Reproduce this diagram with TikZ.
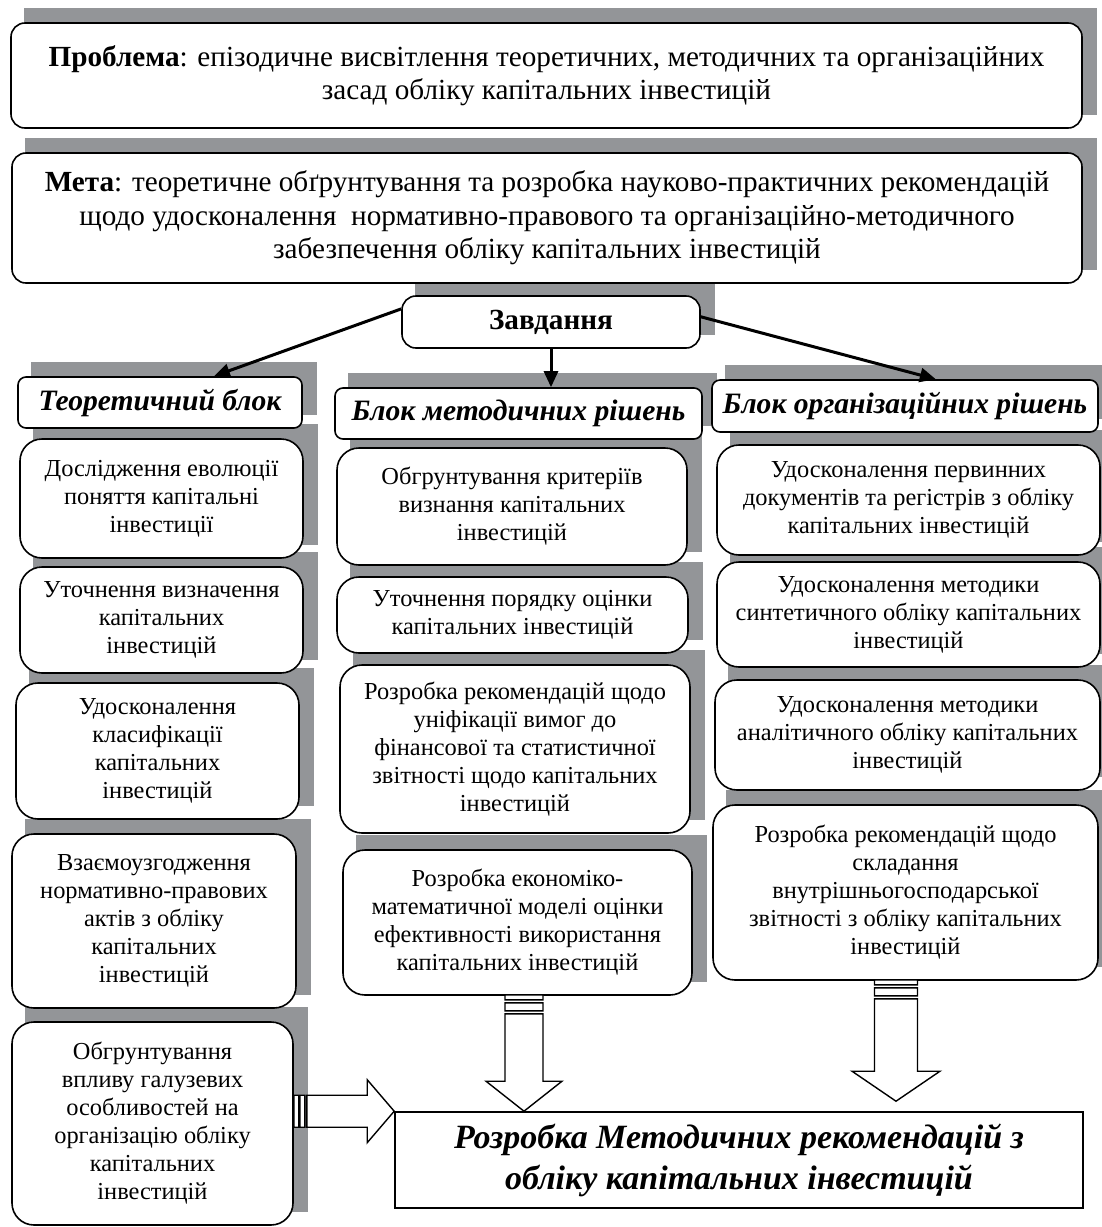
\documentclass[tikz,border=0pt]{standalone}
\usepackage{fontspec}
\setmainfont{Liberation Serif}
\usetikzlibrary{calc,positioning,arrows.meta}

\definecolor{shadowgray}{RGB}{147,149,152}
\pgfdeclarelayer{shadowlayer}
\pgfsetlayers{shadowlayer,main}

% grey block behind a box, shifted up and right
\newcommand{\boxshadow}[1]{%
  \begin{pgfonlayer}{shadowlayer}
    \fill[shadowgray] ([shift={(14,-14)}]#1.south west) rectangle ([shift={(14,-14)}]#1.north east);
  \end{pgfonlayer}}

% striped block arrow, downwards
\newcommand{\stripedown}[4]{%
  \draw[blockarrow] let \p1=#1, \p2=#2 in
    (\x1-#3,\y1+0.5pt) rectangle (\x1+#3,\y1-2pt)
    (\x1-#3,\y1-3.5pt) rectangle (\x1+#3,\y1-7.5pt)
    (\x1-#3,\y1-9pt) -- (\x1-#3,\y2+15pt) -- (\x1-#4,\y2+15pt) -- (\x1,\y2)
    -- (\x1+#4,\y2+15pt) -- (\x1+#3,\y2+15pt) -- (\x1+#3,\y1-9pt) -- cycle;}

% striped block arrow, to the right
\newcommand{\striperight}[4]{%
  \draw[blockarrow] let \p1=#1, \p2=#2 in
    (\x1,\y2-#3) rectangle (\x1+2.5pt,\y2+#3)
    (\x1+3pt,\y2-#3) rectangle (\x1+5.5pt,\y2+#3)
    (\x1+6.5pt,\y2-#3) -- (\x2-13.5pt,\y2-#3) -- (\x2-13.5pt,\y2-#4) -- (\x2,\y2)
    -- (\x2-13.5pt,\y2+#4) -- (\x2-13.5pt,\y2+#3) -- (\x1+6.5pt,\y2+#3) -- cycle;}

\begin{document}
\begin{tikzpicture}[
    x=0.5pt, y=-0.5pt,
    line width=0.8pt,
    box/.style={draw=black, rounded corners=11pt, fill=white, align=center, inner sep=2pt, font=\fontsize{12.2}{14}\selectfont},
    topbox/.style={box, rounded corners=7pt, font=\fontsize{14.6}{16.8}\selectfont},
    headbox/.style={box, rounded corners=4pt, font=\fontsize{14.8}{16}\selectfont\bfseries\itshape},
    resultbox/.style={draw=black, fill=white, align=center, inner sep=2pt, font=\fontsize{17}{20.5}\selectfont\bfseries\itshape},
    taskarrow/.style={-{Triangle[length=8pt,width=7pt]}, line width=1.5pt},
    blockarrow/.style={draw=black, fill=white, line width=0.7pt}
]
\useasboundingbox (0,0) rectangle (1102,1227);

% top
\node[topbox, minimum width=535.5pt, minimum height=52.5pt] (problem) at (546.5,75.5) {\textbf{Проблема}: епізодичне висвітлення теоретичних, методичних та організаційних\\засад обліку капітальних інвестицій};
\node[topbox, minimum width=535pt, minimum height=65pt] (goal) at (547,218) {\textbf{Мета}: теоретичне обґрунтування та розробка науково-практичних рекомендацій\\щодо удосконалення \ нормативно-правового та організаційно-методичного\\забезпечення обліку капітальних інвестицій};
\node[topbox, font=\fontsize{14.6}{16}\selectfont\bfseries, minimum width=149pt, minimum height=26pt] (task) at (551,322) {Завдання};

% block headers
\node[headbox, minimum width=142pt, minimum height=25.5pt] (theory) at (160,402.5) {Теоретичний блок};
\node[headbox, minimum width=183.5pt, minimum height=25.5pt] (method) at (518.5,413.5) {Блок методичних рішень};
\node[headbox, minimum width=193pt, minimum height=26pt] (org) at (905,406) {Блок організаційних рішень};

% theory column
\node[box, minimum width=141.5pt, minimum height=59.5pt] (evol) at (161.5,498.5) {Дослідження еволюції\\поняття капітальні\\інвестиції};
\node[box, minimum width=141.5pt, minimum height=53pt] (defin) at (161.5,620) {Уточнення визначення\\капітальних\\інвестицій};
\node[box, minimum width=141.5pt, minimum height=68pt] (classif) at (157.5,751) {Удосконалення\\класифікації\\капітальних\\інвестицій};
\node[box, minimum width=142pt, minimum height=87pt] (acts) at (154,921) {Взаємоузгодження\\нормативно-правових\\актів з обліку\\капітальних\\інвестицій};
\node[box, minimum width=140.5pt, minimum height=101.5pt] (branch) at (152.5,1123.5) {Обгрунтування\\впливу галузевих\\особливостей на\\організацію обліку\\капітальних\\інвестицій};

% method column
\node[box, minimum width=175pt, minimum height=58.5pt] (criteria) at (512,506.5) {Обгрунтування критеріїв\\визнання капітальних\\інвестицій};
\node[box, minimum width=175.5pt, minimum height=38pt] (valuation) at (512.5,615) {Уточнення порядку оцінки\\капітальних інвестицій};
\node[box, minimum width=175pt, minimum height=84pt] (unify) at (515,749) {Розробка рекомендацій щодо\\уніфікації вимог до\\фінансової та статистичної\\звітності щодо капітальних\\інвестицій};
\node[box, minimum width=174.5pt, minimum height=72.5pt] (model) at (517.5,922.5) {Розробка економіко-\\математичної моделі оцінки\\ефективності використання\\капітальних інвестицій};

% organisation column
\node[box, minimum width=191.5pt, minimum height=55pt] (docs) at (908.5,500) {Удосконалення первинних\\документів та регістрів з обліку\\капітальних інвестицій};
\node[box, minimum width=191.5pt, minimum height=52.5pt] (synth) at (908.5,614.5) {Удосконалення методики\\синтетичного обліку капітальних\\інвестицій};
\node[box, minimum width=192.5pt, minimum height=55pt] (analyt) at (907.5,735) {Удосконалення методики\\аналітичного обліку капітальних\\інвестицій};
\node[box, minimum width=192.5pt, minimum height=87.5pt] (report) at (905.5,892.5) {Розробка рекомендацій щодо\\складання\\внутрішньогосподарської\\звітності з обліку капітальних\\інвестицій};

% result
\node[resultbox, minimum width=344pt, minimum height=48pt] (result) at (739,1160) {Розробка Методичних рекомендацій з\\обліку капітальних інвестицій};

\foreach \n in {problem,goal,task,theory,method,org,evol,defin,classif,acts,branch,criteria,valuation,unify,model,docs,synth,analyt,report}
  {\boxshadow{\n}}

\draw[taskarrow] (task.175) -- (theory.26);
\draw[taskarrow] (task.south) -- (task.south |- method.north);
\draw[taskarrow] (task.2) -- (org.41);

\stripedown{([xshift=3.25pt]model.south)}{([xshift=3.25pt]result.north)}{9.5pt}{19pt}
\stripedown{([xshift=-4.75pt]report.south)}{([xshift=-4.75pt,yshift=5pt]result.north)}{10.75pt}{22pt}
\striperight{(branch.east)}{(result.north west)}{8pt}{15.75pt}
\end{tikzpicture}
\end{document}
